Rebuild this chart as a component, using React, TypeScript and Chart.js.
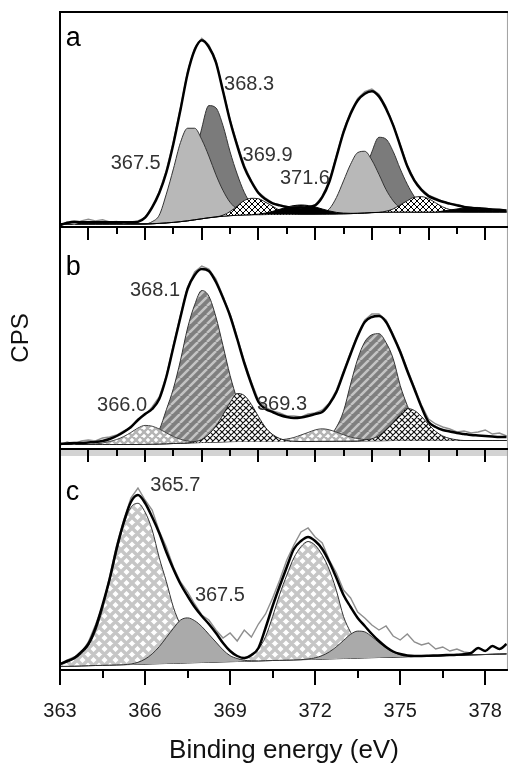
import React, { useEffect, useRef } from 'react';
import { Chart, registerables } from 'chart.js';

Chart.register(...registerables);

const FONT = "'Liberation Sans', Arial, Helvetica, sans-serif";

// Binding energy grid (eV)
const ENERGY = [
  363, 363.25, 363.5, 363.75, 364, 364.25, 364.5, 364.75,
  365, 365.25, 365.5, 365.75, 366, 366.25, 366.5, 366.75,
  367, 367.25, 367.5, 367.75, 368, 368.25, 368.5, 368.75,
  369, 369.25, 369.5, 369.75, 370, 370.25, 370.5, 370.75,
  371, 371.25, 371.5, 371.75, 372, 372.25, 372.5, 372.75,
  373, 373.25, 373.5, 373.75, 374, 374.25, 374.5, 374.75,
  375, 375.25, 375.5, 375.75, 376, 376.25, 376.5, 376.75,
  377, 377.25, 377.5, 377.75, 378, 378.25, 378.5, 378.75,
];

// ---------- Panel a ----------
const ENV_A = [
  2, 4, 5, 4.5, 4.5, 4.5, 4.5, 4.5,
  4.5, 4.5, 4.5, 5, 9, 19, 33, 53,
  81, 114, 149, 172, 181.5, 175, 160, 132,
  103, 79, 58, 44, 33, 27, 23, 21,
  19.5, 19, 19, 19.5, 21, 29, 44, 68,
  92, 110, 123, 129.5, 132, 127, 115, 99,
  79, 59, 45, 36, 30, 27, 24.5, 22.7,
  21, 19.5, 18.5, 18, 17.5, 17, 16.5, 16,
];
const RAW_A = [
  1, 5, 3, 6, 7.5, 6, 7, 5,
  5.5, 4, 5, 6, 9, 20, 34, 55,
  83, 116, 151, 174, 183.5, 177, 162, 133,
  104, 81, 60, 45, 34, 28, 23.5, 21.5,
  20, 19.5, 19, 20, 21.5, 30, 45, 69,
  94, 112, 125, 131.5, 134, 129, 117, 100,
  80, 60, 46, 37, 31, 28, 25, 23,
  22, 20, 19.5, 18, 18.5, 17, 17.5, 16,
];
const BG_A = [
  3, 3, 3, 3, 3, 3, 3, 3,
  3, 3, 3, 3, 3, 3.2, 3.5, 4,
  4.5, 5.2, 6, 7, 8, 9, 9.8, 10.5,
  11, 11.4, 11.7, 11.9, 12, 12.1, 12.2, 12.2,
  12.3, 12.3, 12.4, 12.4, 12.5, 12.5, 12.6, 12.7,
  12.8, 13, 13.3, 13.6, 14, 14.2, 14.4, 14.5,
  14.5, 14.5, 14.5, 14.5, 14.5, 14.5, 14.5, 14.5,
  14.5, 14.5, 14.5, 14.5, 14.5, 14.5, 14.5, 14.5,
];
// component 367.5 eV (light grey)
const PEAK_A_3675 = [
  0, 0, 0, 0, 0, 0, 0, 0,
  0, 0, 0, 0, 0, 2, 8, 28,
  52, 77, 90, 89, 77, 60, 41, 25,
  13, 6, 2, 0.5, 0, 0, 0, 0,
  0, 0, 0, 0, 0, 1, 5, 16,
  32, 48, 59, 60, 51, 37, 22, 11,
  4, 1, 0, 0, 0, 0, 0, 0,
  0, 0, 0, 0, 0, 0, 0, 0,
];
// component 368.3 eV (dark grey)
const PEAK_A_3683 = [
  0, 0, 0, 0, 0, 0, 0, 0,
  0, 0, 0, 0, 0, 0, 0, 0,
  4, 12, 30, 58, 88, 109, 106, 88,
  62, 40, 22, 10, 4, 1, 0, 0,
  0, 0, 0, 0, 0, 0, 0, 0,
  3, 8, 20, 39, 59, 73, 71, 59,
  42, 27, 15, 7, 3, 1, 0, 0,
  0, 0, 0, 0, 0, 0, 0, 0,
];
// component 369.9 eV (cross-hatched)
const PEAK_A_3699 = [
  0, 0, 0, 0, 0, 0, 0, 0,
  0, 0, 0, 0, 0, 0, 0, 0,
  0, 0, 0, 0, 0, 0, 0, 1,
  4, 9, 14, 16, 15.5, 12, 8, 4,
  2, 0.5, 0, 0, 0, 0, 0, 0,
  0, 0, 0, 0, 0, 0, 1, 3,
  7, 11, 14.5, 15, 13, 9, 5, 2.5,
  1, 0, 0, 0, 0, 0, 0, 0,
];
// component 371.6 eV (black)
const PEAK_A_3716 = [
  0, 0, 0, 0, 0, 0, 0, 0,
  0, 0, 0, 0, 0, 0, 0, 0,
  0, 0, 0, 0, 0, 0, 0, 0,
  0, 0, 0, 0, 0.5, 1.5, 3, 5,
  7, 8.5, 9, 8.5, 7, 5, 3, 1.5,
  0.7, 0.3, 0, 0, 0, 0, 0, 0,
  0, 0, 0, 0, 0, 0, 1, 2,
  3, 4, 4.5, 4.5, 3.5, 2.5, 1.5, 1,
];

// ---------- Panel b ----------
const ENV_B = [
  5, 5.5, 6, 6, 6.5, 7, 8, 10,
  13, 17, 22, 29, 35, 40, 50, 72,
  102, 132, 160, 174, 180, 178, 167, 151,
  133, 110, 86, 65, 47, 40, 37, 34,
  32, 31, 31.5, 33, 35, 37, 45, 57,
  76, 95, 113, 127, 132, 133, 127, 113,
  97, 78, 60, 42, 27, 22, 19, 17.5,
  16, 15, 14, 13.5, 13, 12.5, 12, 12,
];
const RAW_B = [
  4, 7, 5, 8, 9, 8, 11, 12,
  14, 18, 21, 30, 34, 42, 52, 73,
  104, 134, 162, 177, 183, 180, 170, 153,
  135, 112, 88, 67, 49, 42, 38, 36,
  33, 33, 32, 35, 36, 39, 46, 59,
  78, 97, 115, 129, 135, 135, 129, 115,
  99, 80, 62, 44, 30, 25, 22, 20,
  17, 18, 16, 17, 19, 15, 16, 13,
];
const BG_B = [
  4.5, 4.5, 4.5, 4.5, 4.5, 4.5, 4.5, 4.5,
  4.5, 4.5, 4.5, 4.5, 4.6, 4.8, 5, 5.2,
  5.5, 5.7, 6, 6.2, 6.5, 6.8, 7, 7.2,
  7.4, 7.5, 7.5, 7.5, 7.5, 7.5, 7.5, 7.5,
  7.5, 7.5, 7.5, 7.5, 7.6, 7.7, 7.7, 7.8,
  7.8, 7.9, 8, 8.1, 8.2, 8.3, 8.4, 8.5,
  8.5, 8.5, 8.5, 8.5, 8.5, 8.5, 8.5, 8.5,
  8.5, 8.5, 8.5, 8.5, 8.5, 8.5, 8.5, 8.5,
];
// component 366.0 eV (light cross-hatch)
const PEAK_B_3660 = [
  0, 0, 0, 0, 0, 0.5, 1.5, 3,
  5, 8, 12, 16.5, 19, 18, 15, 11,
  7, 4, 2, 1, 0.3, 0, 0, 0,
  0, 0, 0, 0, 0, 0, 0.5, 1.5,
  2.5, 4, 6.5, 9, 11.5, 12.5, 11.5, 9,
  6.5, 4, 2.5, 1.2, 0.5, 0, 0, 0,
  0, 0, 0, 0, 0, 0, 0, 0,
  0, 0, 0, 0, 0, 0, 0, 0,
];
// component 368.1 eV (striped)
const PEAK_B_3681 = [
  0, 0, 0, 0, 0, 0, 0, 0,
  0, 0, 0, 0, 0, 3, 14, 34,
  55, 83, 115, 138, 152, 146, 125, 96,
  66, 42, 24, 12, 5, 2, 0.5, 0,
  0, 0, 0, 0, 0, 1, 5, 14,
  30, 57, 82, 99, 106, 107, 98, 82,
  55, 35, 19, 9, 4, 1.5, 0.5, 0,
  0, 0, 0, 0, 0, 0, 0, 0,
];
// component 369.3 eV (cross-hatched)
const PEAK_B_3693 = [
  0, 0, 0, 0, 0, 0, 0, 0,
  0, 0, 0, 0, 0, 0, 0, 0,
  0, 0, 0, 1, 3, 8, 16, 27,
  39, 48, 46, 37, 25, 14, 7, 3,
  1, 0.3, 0, 0, 0, 0, 0, 0,
  0, 0, 0, 1, 2, 5, 11, 18,
  26, 32, 30, 24, 16, 9, 4.5, 2,
  0.7, 0, 0, 0, 0, 0, 0, 0,
];

// ---------- Panel c ----------
const ENV_C = [
  6, 9, 12, 18, 26, 42, 65, 91,
  122, 148, 168, 175, 167, 153, 137, 118,
  101, 86, 74, 63, 54, 46, 37, 27,
  19, 14, 12, 15, 22, 42, 64, 84,
  103, 121, 129, 133, 129, 121, 108, 92,
  75, 63, 52, 44, 36, 29, 23, 18.5,
  16, 14.5, 14, 14, 14.2, 14.5, 14.8, 15,
  15.3, 15.8, 17, 22, 19, 24, 21, 26,
];
const RAW_C = [
  5, 10, 13, 17, 28, 45, 64, 93,
  125, 150, 172, 182, 170, 160, 139, 123,
  103, 88, 78, 66, 55, 50, 40, 32,
  37, 29, 40, 33, 46, 56, 72, 90,
  110, 125, 138, 142, 133, 127, 110, 97,
  80, 72, 58, 52, 45, 40, 44, 34,
  30, 36, 28, 25, 27, 21, 23, 19,
  21, 18, 17, 22, 19, 24, 21, 26,
];
const BG_C = [
  3.5, 3.7, 3.9, 4.1, 4.3, 4.5, 4.7, 4.9,
  5.1, 5.3, 5.5, 5.7, 5.9, 6.1, 6.3, 6.5,
  6.7, 6.9, 7.1, 7.3, 7.5, 7.7, 7.9, 8.1,
  8.3, 8.5, 8.7, 8.9, 9.1, 9.3, 9.5, 9.7,
  9.9, 10.1, 10.3, 10.5, 10.7, 10.9, 11.1, 11.3,
  11.5, 11.7, 11.9, 12.1, 12.3, 12.5, 12.7, 12.9,
  13.1, 13.3, 13.5, 13.7, 13.9, 14.1, 14.3, 14.5,
  14.7, 14.9, 15.1, 15.3, 15.5, 15.7, 15.9, 16.1,
];
// component 365.7 eV (grey cross-hatch)
const PEAK_C_3657 = [
  2, 4, 7, 12, 20, 34, 56, 84,
  113, 140, 157, 161, 152, 134, 106, 82,
  56, 38, 24, 14, 8, 4, 2, 1,
  0.5, 1.7, 3, 6, 12, 24, 44, 66,
  85, 102, 113, 118, 114, 104, 89, 68,
  42, 26, 13, 6, 2.5, 1, 0.4, 0,
  0, 0, 0, 0, 0, 0, 0, 0,
  0, 0, 0, 0, 0, 0, 0, 0,
];
// component 367.5 eV (grey)
const PEAK_C_3675 = [
  0, 0, 0, 0, 0, 0, 0, 0,
  0, 0, 0.5, 2, 5, 10, 17, 26,
  35, 43, 45, 42, 36, 28, 20, 12,
  6, 3, 1, 0.3, 0, 0, 0, 0,
  0, 0, 0, 0.5, 1.5, 3.5, 7, 12,
  18, 24, 27, 26, 21, 15, 9.5, 5,
  2.3, 1, 0.3, 0, 0, 0, 0, 0,
  0, 0, 0, 0, 0, 0, 0, 0,
];

// Axis / tick values
const X_MIN = 363;
const X_MAX = 378.8;
const X_STEP = 3;
const MAJOR_AB = [364, 366, 368, 370, 372, 374, 376, 378];
const MINOR_AB = [365, 367, 369, 371, 373, 375, 377];
const MINOR_C = [364.5, 367.5, 370.5, 373.5, 376.5];

// Annotations (text placed at energy / intensity of its panel)
const PEAK_LABELS = [
  { text: '367.5', axis: 'ya', e: 365.67, i: 62 },
  { text: '368.3', axis: 'ya', e: 369.67, i: 138.5 },
  { text: '369.9', axis: 'ya', e: 370.32, i: 69.3 },
  { text: '371.6', axis: 'ya', e: 371.64, i: 47 },
  { text: '368.1', axis: 'yb', e: 366.35, i: 159 },
  { text: '366.0', axis: 'yb', e: 365.19, i: 44 },
  { text: '369.3', axis: 'yb', e: 370.83, i: 45 },
  { text: '365.7', axis: 'yc', e: 367.07, i: 184.5 },
  { text: '367.5', axis: 'yc', e: 368.64, i: 74.5 },
];
const PANEL_LETTERS = [
  { text: 'a', axis: 'ya', e: 363.2, i: 176 },
  { text: 'b', axis: 'yb', e: 363.2, i: 174 },
  { text: 'c', axis: 'yc', e: 363.2, i: 170 },
];

function tile(size: number, draw: (g: CanvasRenderingContext2D, s: number) => void): CanvasPattern {
  const c = document.createElement('canvas');
  c.width = size;
  c.height = size;
  const g = c.getContext('2d') as CanvasRenderingContext2D;
  draw(g, size);
  return g.createPattern(c, 'repeat') as CanvasPattern;
}
function crossHatch(size: number, bg: string, line: string, lw: number) {
  return tile(size, (g, s) => {
    g.fillStyle = bg;
    g.fillRect(0, 0, s, s);
    g.strokeStyle = line;
    g.lineWidth = lw;
    g.beginPath();
    for (const k of [-1, 0, 1]) {
      g.moveTo(k * s, 0);
      g.lineTo(k * s + s, s);
      g.moveTo(k * s + s, 0);
      g.lineTo(k * s, s);
    }
    g.stroke();
  });
}
function stripes(size: number, bg: string, line: string, lw: number) {
  return tile(size, (g, s) => {
    g.fillStyle = bg;
    g.fillRect(0, 0, s, s);
    g.strokeStyle = line;
    g.lineWidth = lw;
    g.beginPath();
    for (const k of [-1, 0, 1]) {
      g.moveTo(k * s, s);
      g.lineTo(k * s + s, 0);
    }
    g.stroke();
  });
}

const pts = (vals: number[], base?: number[]) =>
  ENERGY.map((e, i) => ({ x: e, y: vals[i] + (base ? base[i] : 0) }));

const decorPlugin = {
  id: 'decor',
  afterDatasetsDraw(chart: any) {
    const { ctx, chartArea: ca, scales } = chart;
    const x = scales.x;
    const ya = scales.ya;
    const yb = scales.yb;
    const yc = scales.yc;
    const px = (v: number) => Math.round(x.getPixelForValue(v));
    const seg = (x1: number, y1: number, x2: number, y2: number) => {
      ctx.beginPath();
      ctx.moveTo(x1, y1);
      ctx.lineTo(x2, y2);
      ctx.stroke();
    };
    ctx.save();
    // light band under the b/c separator
    ctx.fillStyle = '#d3d3d3';
    ctx.fillRect(ca.left + 1, yb.bottom + 1, ca.right - ca.left - 1, 6);
    // right border
    ctx.strokeStyle = '#a0a0a0';
    ctx.lineWidth = 1;
    seg(ca.right - 0.5, ya.top, ca.right - 0.5, yc.bottom);
    // frame lines
    ctx.strokeStyle = '#000';
    ctx.lineWidth = 2;
    for (const yy of [ya.top, ya.bottom, yb.bottom, yc.bottom]) seg(ca.left - 1, yy, ca.right, yy);
    seg(ca.left, ya.top - 1, ca.left, yc.bottom + 1);
    // ticks
    for (const yy of [ya.bottom, yb.bottom]) {
      for (const v of MAJOR_AB) seg(px(v), yy, px(v), yy + 13);
      for (const v of MINOR_AB) seg(px(v), yy, px(v), yy + 7);
    }
    for (const t of x.ticks) seg(px(t.value), yc.bottom, px(t.value), yc.bottom + 15);
    for (const v of MINOR_C) seg(px(v), yc.bottom, px(v), yc.bottom + 8);
    // peak labels
    ctx.fillStyle = '#333';
    ctx.font = `20px ${FONT}`;
    ctx.textAlign = 'center';
    ctx.textBaseline = 'middle';
    for (const l of PEAK_LABELS) {
      ctx.fillText(l.text, x.getPixelForValue(l.e), scales[l.axis].getPixelForValue(l.i));
    }
    // panel letters
    ctx.fillStyle = '#000';
    ctx.font = `27px ${FONT}`;
    ctx.textAlign = 'left';
    ctx.textBaseline = 'alphabetic';
    for (const l of PANEL_LETTERS) {
      ctx.fillText(l.text, x.getPixelForValue(l.e), scales[l.axis].getPixelForValue(l.i));
    }
    ctx.restore();
  },
};

export default function App() {
  const ref = useRef<HTMLCanvasElement | null>(null);

  useEffect(() => {
    if (!ref.current) return;

    const fills: Record<string, any> = {
      a3675: '#b8b8b8',
      a3683: '#7b7b7b',
      a3699: crossHatch(6, '#ffffff', '#000000', 1),
      a3716: '#000000',
      b3660: crossHatch(8, '#ffffff', '#b4b4b4', 2.4),
      b3681: stripes(9, '#7f7f7f', '#c4c4c4', 2.5),
      b3693: crossHatch(6, '#ffffff', '#111111', 1.2),
      c3657: crossHatch(11, '#ffffff', '#c6c6c6', 3.5),
      c3675: '#aaaaaa',
    };

    const panels = [
      {
        axis: 'ya', env: ENV_A, raw: RAW_A, bg: BG_A,
        comps: [
          { label: '371.6', vals: PEAK_A_3716, fill: fills.a3716, border: '#000' },
          { label: '369.9', vals: PEAK_A_3699, fill: fills.a3699, border: '#222' },
          { label: '367.5', vals: PEAK_A_3675, fill: fills.a3675, border: '#333' },
          { label: '368.3', vals: PEAK_A_3683, fill: fills.a3683, border: '#333' },
        ],
      },
      {
        axis: 'yb', env: ENV_B, raw: RAW_B, bg: BG_B,
        comps: [
          { label: '369.3', vals: PEAK_B_3693, fill: fills.b3693, border: '#222' },
          { label: '366.0', vals: PEAK_B_3660, fill: fills.b3660, border: '#444' },
          { label: '368.1', vals: PEAK_B_3681, fill: fills.b3681, border: '#333' },
        ],
      },
      {
        axis: 'yc', env: ENV_C, raw: RAW_C, bg: BG_C,
        comps: [
          { label: '367.5', vals: PEAK_C_3675, fill: fills.c3675, border: '#333' },
          { label: '365.7', vals: PEAK_C_3657, fill: fills.c3657, border: '#333' },
        ],
      },
    ];

    const datasets: any[] = [];
    for (const p of panels) {
      datasets.push({
        label: 'fit ' + p.axis, data: pts(p.env), yAxisID: p.axis, xAxisID: 'x',
        borderColor: '#000', borderWidth: 2.5, fill: false, cubicInterpolationMode: 'monotone',
      });
      datasets.push({
        label: 'raw ' + p.axis, data: pts(p.raw), yAxisID: p.axis, xAxisID: 'x',
        borderColor: '#8e8e8e', borderWidth: 1.4, fill: false, tension: 0,
      });
      const bgIndex = datasets.length + p.comps.length;
      for (const c of p.comps) {
        datasets.push({
          label: c.label, data: pts(c.vals, p.bg), yAxisID: p.axis, xAxisID: 'x',
          borderColor: c.border, borderWidth: 1, backgroundColor: c.fill,
          fill: bgIndex, cubicInterpolationMode: 'monotone',
        });
      }
      datasets.push({
        label: 'background ' + p.axis, data: pts(p.bg), yAxisID: p.axis, xAxisID: 'x',
        borderColor: '#000', borderWidth: 1, fill: false, tension: 0,
      });
    }

    const yScale = (max: number, weight: number, stackWeight: number, title?: string) => ({
      type: 'linear',
      position: 'left',
      stack: 'panels',
      stackWeight,
      weight,
      min: 0,
      max,
      ticks: { display: false },
      grid: { display: false },
      border: { display: false },
      title: title
        ? { display: true, text: title, color: '#111', font: { family: FONT, size: 24 }, padding: { top: 7, bottom: 0 } }
        : { display: false },
      afterFit: (s: any) => { s.width = 60; },
    });

    const chart = new Chart(ref.current, {
      type: 'line',
      data: { datasets },
      plugins: [decorPlugin],
      options: {
        responsive: false,
        devicePixelRatio: 1,
        animation: false,
        events: [],
        layout: { padding: { left: 0, right: 1, top: 12, bottom: 0 } },
        elements: { point: { radius: 0 } },
        plugins: { legend: { display: false }, tooltip: { enabled: false } },
        scales: {
          x: {
            type: 'linear',
            position: 'bottom',
            min: X_MIN,
            max: X_MAX,
            grid: { display: false },
            border: { display: false },
            ticks: {
              stepSize: X_STEP,
              includeBounds: false,
              autoSkip: false,
              maxRotation: 0,
              padding: 21,
              color: '#1a1a1a',
              font: { family: FONT, size: 20 },
              callback: (v: any) => String(v),
            },
            title: {
              display: true,
              text: 'Binding energy (eV)',
              color: '#111',
              font: { family: FONT, size: 26 },
              padding: { top: 0, bottom: -2 },
            },
            afterFit: (s: any) => { s.height = 94; },
          },
          ya: yScale(209, 3, 215),
          yb: yScale(222, 2, 222, 'CPS'),
          yc: yScale(221, 1, 221),
        } as any,
      } as any,
    });

    return () => chart.destroy();
  }, []);

  return (
    <div style={{ position: 'fixed', left: 0, top: 0, width: 523, height: 764, background: '#fff' }}>
      <canvas ref={ref} width={523} height={764} style={{ display: 'block', width: 523, height: 764 }} />
    </div>
  );
}
